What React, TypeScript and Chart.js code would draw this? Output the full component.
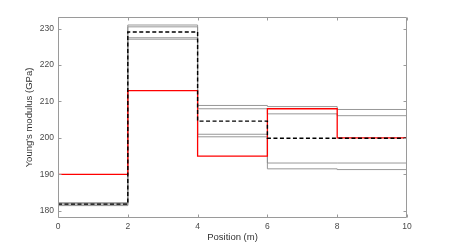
import React, { useEffect, useRef } from "react";
import { Chart, registerables } from "chart.js";
Chart.register(...registerables);

// Segment boundaries (m) and per-segment Young's modulus values (GPa)
const positions = [0, 2, 4, 6, 8, 10];
const xTicks = [0, 2, 4, 6, 8, 10];
const yTicks = [180, 190, 200, 210, 220, 230];

const redSeries = [190, 213, 195, 208, 200];
const meanSeries = [181.8, 229.1, 204.6, 199.9, 199.9];
const gray1 = [182.2, 231.0, 208.9, 208.6, 207.8];
const gray2 = [182.0, 230.5, 208.0, 206.6, 206.1];
const gray3 = [181.6, 227.5, 201.0, 193.1, 193.1];
const gray4 = [181.4, 227.1, 200.3, 191.5, 191.3];

const FONT = "'Liberation Sans', Arial, Helvetica, sans-serif";

function stepPoints(values: number[]) {
  return positions.map((x, i) => ({ x, y: values[Math.min(i, values.length - 1)] }));
}

const boxPlugin = {
  id: "matlabBox",
  afterDatasetsDraw(chart: any) {
    const { ctx, chartArea: a, scales } = chart;
    const L = Math.round(a.left) + 0.5;
    const R = Math.round(a.right) - 0.5;
    const T = Math.round(a.top) + 0.5;
    const B = Math.round(a.bottom) - 0.5;
    const tl = 3;
    ctx.save();
    ctx.strokeStyle = "#9a9a9a";
    ctx.lineWidth = 1;
    ctx.beginPath();
    ctx.moveTo(L, T);
    ctx.lineTo(R, T);
    ctx.lineTo(R, B);
    ctx.lineTo(L, B);
    ctx.closePath();
    xTicks.forEach((v) => {
      const px = Math.round(scales.x.getPixelForValue(v)) + 0.5;
      ctx.moveTo(px, B);
      ctx.lineTo(px, B - tl);
      ctx.moveTo(px, T);
      ctx.lineTo(px, T + tl);
    });
    yTicks.forEach((v) => {
      const py = Math.round(scales.y.getPixelForValue(v)) + 0.5;
      ctx.moveTo(L, py);
      ctx.lineTo(L + tl, py);
      ctx.moveTo(R, py);
      ctx.lineTo(R - tl, py);
    });
    ctx.stroke();
    ctx.restore();
  },
};

export default function App() {
  const ref = useRef<HTMLCanvasElement | null>(null);

  useEffect(() => {
    if (!ref.current) return;
    const grayStyle = (data: number[]) => ({
      data: stepPoints(data),
      borderColor: "#8c8c8c",
      borderWidth: 0.9,
      pointRadius: 0,
      stepped: "before" as const,
      fill: false,
      order: 3,
    });
    const chart = new Chart(ref.current, {
      type: "line",
      data: {
        datasets: [
          {
            data: stepPoints(meanSeries),
            borderColor: "#000000",
            borderWidth: 1.4,
            borderDash: [4, 2.5],
            pointRadius: 0,
            stepped: "before",
            fill: false,
            order: 0,
          },
          {
            data: stepPoints(redSeries),
            borderColor: "#ff0000",
            borderWidth: 1.3,
            pointRadius: 0,
            stepped: "before",
            fill: false,
            order: 1,
          },
          grayStyle(gray1),
          grayStyle(gray2),
          grayStyle(gray3),
          grayStyle(gray4),
        ] as any,
      },
      options: {
        animation: false,
        responsive: false,
        devicePixelRatio: 1,
        layout: { padding: { top: 17, right: 43, left: 0, bottom: 0 } },
        plugins: { legend: { display: false }, tooltip: { enabled: false } },
        scales: {
          x: {
            type: "linear",
            min: 0,
            max: 10,
            grid: { display: false, drawTicks: false },
            border: { display: false },
            afterBuildTicks: (s: any) => {
              s.ticks = xTicks.map((v) => ({ value: v }));
            },
            afterFit: (s: any) => {
              s.height = 27;
            },
            ticks: {
              padding: 4,
              color: "#4a4a4a",
              font: { family: FONT, size: 8.5 },
              maxRotation: 0,
            },
            title: {
              display: true,
              text: "Position (m)",
              color: "#333333",
              font: { family: FONT, size: 9.5 },
              padding: { top: 0, bottom: 2 },
            },
          },
          y: {
            type: "linear",
            min: 178,
            max: 233.2,
            grid: { display: false, drawTicks: false },
            border: { display: false },
            afterBuildTicks: (s: any) => {
              s.ticks = yTicks.map((v) => ({ value: v }));
            },
            afterFit: (s: any) => {
              s.width = 58;
            },
            ticks: {
              padding: 4,
              color: "#4a4a4a",
              font: { family: FONT, size: 8.5 },
            },
            title: {
              display: true,
              text: "Young's modulus (GPa)",
              color: "#333333",
              font: { family: FONT, size: 9.5 },
              padding: { top: 24, bottom: 0 },
            },
          },
        },
      },
      plugins: [boxPlugin],
    });
    return () => chart.destroy();
  }, []);

  return (
    <div style={{ position: "fixed", left: 0, top: 0, width: 450, height: 245, background: "#ffffff" }}>
      <canvas ref={ref} width={450} height={245} style={{ width: 450, height: 245, display: "block" }} />
    </div>
  );
}
